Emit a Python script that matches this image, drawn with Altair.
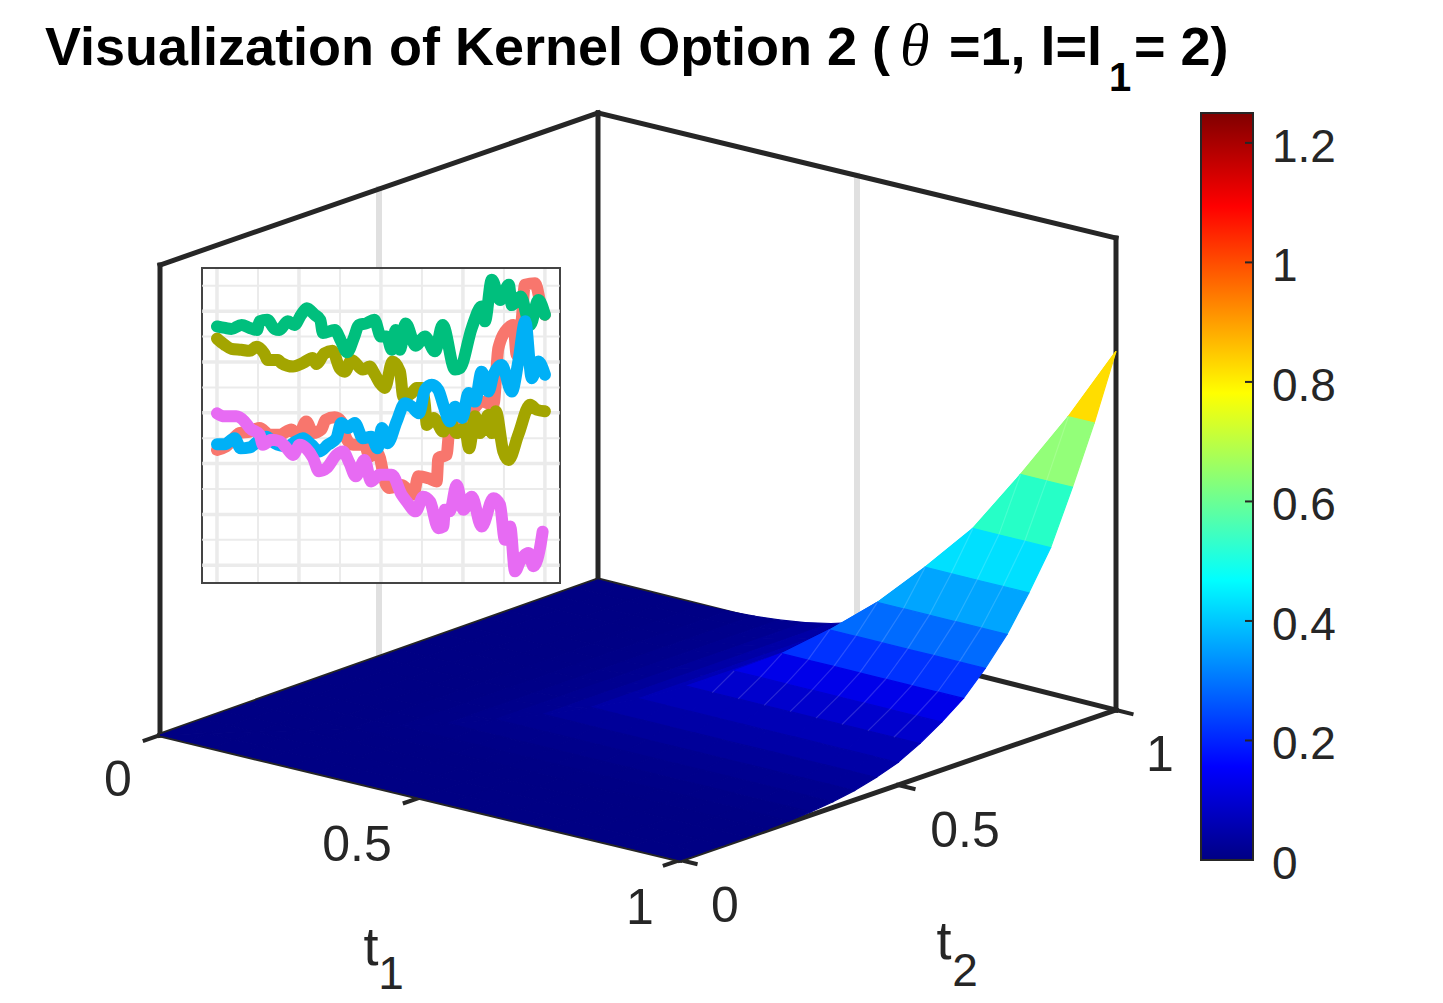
import altair as alt
import pandas as pd

# ── Surface: kernel height per grid node of min(t1, t2), step 0.05 ───────────
node_t = [i / 20 for i in range(21)]
node_z = [0, 0, 0.0001, 0.0005, 0.002, 0.004, 0.008, 0.015, 0.025, 0.04, 0.06,
          0.09, 0.127, 0.17, 0.23, 0.30, 0.39, 0.49, 0.63, 0.78, 0.95]
# flat colour of each band of facets
band_level = [0, 0, 0, 0, 0.001, 0.004, 0.009, 0.016, 0.028, 0.045,
              0.065, 0.095, 0.13, 0.175, 0.23, 0.31, 0.41, 0.57, 0.67, 0.84]

# ── Colour bar ───────────────────────────────────────────────────────────────
jet_domain = [0, 0.15625, 0.46875, 0.78125, 1.09375, 1.25]
jet_colors = ["#000084", "#0000ff", "#00ffff", "#ffff00", "#ff0000", "#800000"]
bar_ticks = [0, 0.2, 0.4, 0.6, 0.8, 1, 1.2]
bar_labels = ["0", "0.2", "0.4", "0.6", "0.8", "1", "1.2"]

# ── Axis ticks ───────────────────────────────────────────────────────────────
t1_ticks = [0, 0.5, 1]
t1_labels = ["0", "0.5", "1"]
t2_ticks = [0, 0.5, 1]
t2_labels = ["0", "0.5", "1"]

# ── Inset: five paths (time, value) ──────────────────────────────────────────
salmon_t = [0, 2.8, 6.9, 10, 13, 16, 19.1, 22.7, 24.7, 27.2, 29.3, 31.8, 33.1, 35.9, 37.9, 39.4,
            41.5, 45, 46.5, 49, 51.6, 52.6, 56.3, 59.9, 61.4, 64.5, 67, 67.5, 70, 71, 73.6,
            77.7, 80.7, 84.3, 85.8, 88.8, 90.4, 91.4, 92.9, 93.9, 97, 99, 100]
salmon_v = [-.73, -.66, -.40, -.37, -.30, -.43, -.43, -.33, -.47, -.17, -.40, -.33, -.14, -.09, -.17, -.50,
            -.63, -.63, -.86, -.79, -1.42, -1.48, -1.42, -1.61, -1.25, -1.29, -1.35, -.89, -.83, -.27, -.24,
            .03, .22, .16, 1.27, 1.67, 1.73, 1.14, 1.80, 2.52, 2.55, 2.06, 1.93]
olive_t = [0, 2.3, 4.4, 7.4, 10, 12, 14.4, 15.5, 18.6, 19.6, 23.2, 26.2, 29.2, 30.3, 32.8, 35.2, 37.4, 39,
           41, 44.5, 46.5, 48.2, 49.7, 51.2, 53.5, 55.8, 56.8, 59.4, 60.9, 62.4, 63.4, 64, 66, 69, 70.6,
           73.1, 75.6, 76.9, 78.7, 80.2, 82.8, 83.8, 85, 87.3, 88.9, 91.9, 95.5, 97.5, 100]
olive_v = [1.46, 1.34, 1.26, 1.24, 1.22, 1.30, 1.17, 1.04, 1.04, .98, .91, .98, 1.08, .96, 1.17, 1.22, .88, .81,
           1.04, .85, .91, .75, .58, .49, 1.01, .81, .32, .39, .49, .49, .16, -.24, -.10, -.37, -.10,
           -.40, -.30, -.70, -.07, -.40, -.04, -.40, .03, -.76, -.93, -.43, .16, .06, .03]
green_t = [0, 2.5, 4.4, 7.5, 10, 12.2, 13, 15.3, 17.6, 19, 21.6, 23.6, 25.7, 27.4, 29.8, 31.5, 32.3, 35.9,
           37.9, 39.7, 41.7, 43.3, 45.5, 48, 50, 51.8, 53.3, 54.5, 55.8, 57.5, 60.6, 63.4, 66.5, 68.8,
           72.6, 74.1, 77.7, 80.7, 81.7, 83.8, 86.3, 89, 89.9, 92.6, 95.5, 98, 100]
green_v = [1.70, 1.67, 1.65, 1.73, 1.67, 1.63, 1.80, 1.83, 1.65, 1.63, 1.80, 1.73, 1.93, 2.06, 1.93, 1.83, 1.57, 1.63,
           1.40, 1.19, 1.47, 1.73, 1.76, 1.83, 1.50, 1.50, 1.24, 1.63, 1.24, 1.76, 1.32, 1.50, 1.21, 1.73,
           .85, .88, 1.67, 2.09, 1.80, 2.62, 2.22, 2.52, 2.12, 2.29, 1.73, 2.22, 1.93]
blue_t = [0, 2.3, 5.4, 7.2, 10, 12.5, 15, 17.6, 21.1, 24.2, 26.2, 28.8, 31.3, 33.8, 36.4, 37.9, 39.9, 42, 44.5,
          47, 49, 50.3, 52, 54.8, 57.3, 59.4, 61.6, 63.4, 65.5, 67.5, 69, 71, 72.6, 74.8, 76.7, 78.7,
          80.7, 82.8, 84.3, 86.8, 89.9, 91.9, 94, 96, 98, 100]
blue_v = [-.62, -.62, -.50, -.70, -.68, -.56, -.47, -.60, -.66, -.56, -.50, -.63, -.76, -.63, -.50, -.20, -.30, -.20, -.50,
          -.47, -.70, -.30, -.60, -.17, .19, .12, -.01, .45, .55, .45, .16, -.17, .12, -.10, .39, .22,
          .81, .42, .75, .94, .42, 1.01, 1.80, .68, 1.01, .75]
pink_t = [0, 2.3, 5.9, 8.4, 10, 13, 14, 16.6, 19.1, 21.3, 23.2, 25.2, 27.2, 29.3, 31.1, 33.4, 36.4, 38.4, 40.4,
          42.3, 45, 47, 49.6, 53.3, 56.3, 57.9, 60.6, 62.9, 65, 67.5, 69, 69.5, 71, 73.1, 75.1, 77.7,
          80.7, 84.3, 86.3, 87.8, 89.4, 90.9, 92.4, 95, 96.5, 98.5, 99.3]
pink_v = [-.01, -.07, -.07, -.17, -.30, -.43, -.63, -.53, -.56, -.70, -.83, -.63, -.70, -.89, -1.15, -1.09, -.83, -.76, -.99,
          -1.25, -.93, -1.35, -1.22, -1.22, -1.61, -1.75, -1.94, -1.65, -1.75, -2.27, -2.24, -1.91, -1.94, -1.42, -1.91, -1.65,
          -2.24, -1.68, -1.81, -2.50, -2.24, -3.12, -2.93, -2.76, -3.02, -2.66, -2.34]

inset_major_x = [0, 25, 50, 75, 100]
inset_minor_x = [12.5, 37.5, 62.5, 87.5]
inset_major_y = [-3, -2, -1, 0, 1, 2]
inset_minor_y = [-2.5, -1.5, -0.5, 0.5, 1.5, 2.5]

# ── Pixel canvas, the 3D view is projected on it ─────────────────────────────
W, H = 1427, 994
px_x = alt.Scale(domain=[8, 8 + W], range=[0, W])
px_y = alt.Scale(domain=[8, 8 + H], range=[0, H])
INK = "#262626"
FONT = "Liberation Sans"
Z = 1.25


def bilinear(t1, t2, a, b, c, d):
    return a * (1 - t1) * (1 - t2) + b * t1 * (1 - t2) + c * (1 - t1) * t2 + d * t1 * t2


def project(t1, t2, z=0.0):
    # box corners, bilinear between them
    x = bilinear(t1, t2, 160, 680, 598, 1116)
    floor = bilinear(t1, t2, 735, 860, 580, 710)
    top = bilinear(t1, t2, 265, 390, 113, 238)
    return x, floor + (top - floor) * z / Z


def segments(rows, width, color, opacity=1.0, cap="square"):
    recs = []
    for a, b in rows:
        x, y = project(*a)
        x2, y2 = project(*b)
        recs.append({"x": x, "y": y, "x2": x2, "y2": y2})
    return (
        alt.Chart(pd.DataFrame(recs))
        .mark_rule(strokeWidth=width, color=color, strokeCap=cap, opacity=opacity)
        .encode(
            x=alt.X("x:Q", scale=px_x, axis=None),
            y=alt.Y("y:Q", scale=px_y, axis=None),
            x2="x2:Q",
            y2="y2:Q",
        )
    )


def label(text, x, y, size, weight="normal", style="normal", font=FONT, color=INK, align="center"):
    return (
        alt.Chart(pd.DataFrame({"text": [text], "x": [x], "y": [y]}))
        .mark_text(font=font, fontSize=size, fontWeight=weight, fontStyle=style, color=color,
                   align=align, baseline="alphabetic")
        .encode(
            x=alt.X("x:Q", scale=px_x, axis=None),
            y=alt.Y("y:Q", scale=px_y, axis=None),
            text="text:N",
        )
    )


# ── Walls and floor frame ────────────────────────────────────────────────────
wall_grid = segments([((0, 0.5, 0), (0, 0.5, Z)), ((0.5, 1, 0), (0.5, 1, Z))], 6, "#e0e0e0")
frame = segments(
    [
        ((0, 0, 0), (0, 0, Z)),
        ((0, 1, 0), (0, 1, Z)),
        ((1, 1, 0), (1, 1, Z)),
        ((0, 0, Z), (0, 1, Z)),
        ((0, 1, Z), (1, 1, Z)),
        ((0, 1, 0), (1, 1, 0)),
        ((0, 0, 0), (0, 1, 0)),
        ((0, 0, 0), (1, 0, 0)),
        ((1, 0, 0), (1, 1, 0)),
    ],
    5,
    INK,
)
tick_rows = [((t, 0, 0), (t, -0.035, 0)) for t in t1_ticks] + [((1, t, 0), (1.03, t, 0)) for t in t2_ticks]
ticks = segments(tick_rows, 4, INK)


# ── Surface facets, painted far to near ──────────────────────────────────────
def facet(nodes, band):
    ring = [list(project(node_t[a], node_t[b], node_z[min(a, b)])) for a, b in nodes + nodes[:1]]
    return {
        "type": "Feature",
        "geometry": {"type": "Polygon", "coordinates": [ring]},
        "properties": {"level": band_level[band]},
    }


features = []
for j in range(19, -1, -1):
    for i in range(20):
        if i == j:
            # the ridge t1 = t2 runs through this cell
            features.append(facet([(i, i), (i, i + 1), (i + 1, i + 1)], i))
            features.append(facet([(i, i), (i + 1, i), (i + 1, i + 1)], i))
        else:
            features.append(facet([(i, j), (i + 1, j), (i + 1, j + 1), (i, j + 1)], min(i, j)))

jet = alt.Scale(domain=jet_domain, range=jet_colors)
surface = (
    alt.Chart(alt.Data(values=features))
    .mark_geoshape(strokeWidth=1.2)
    .encode(
        color=alt.Color("properties.level:Q", scale=jet, legend=None),
        stroke=alt.Stroke("properties.level:Q", scale=jet, legend=None),
    )
    .project(type="identity", scale=1, translate=[-8, -8])
)

# faint seams between the columns of facets in front of the ridge
seam_rows = [
    ((node_t[i], node_t[j], node_z[j]), (node_t[i], node_t[j + 1], node_z[j + 1]))
    for i in range(12, 20)
    for j in range(11, i)
]
seams = segments(seam_rows, 1.2, "white", opacity=0.16, cap="butt")

# ── Colour bar ───────────────────────────────────────────────────────────────
bar_scale = alt.Scale(domain=[0, Z], range=[860 - 8, 113 - 8])
bar_stops = [alt.GradientStop(offset=v / Z, color=c) for v, c in zip(jet_domain, jet_colors)]
bar_rect = (
    alt.Chart(pd.DataFrame({"y": [0], "y2": [Z], "x": [1201], "x2": [1253]}))
    .mark_rect(
        fill=alt.LinearGradient(gradient="linear", stops=bar_stops, x1=0, x2=0, y1=1, y2=0),
        stroke=INK,
        strokeWidth=2,
    )
    .encode(
        x=alt.X("x:Q", scale=px_x, axis=None),
        x2="x2:Q",
        y=alt.Y("y:Q", scale=bar_scale, axis=None),
        y2="y2:Q",
    )
)
bar_tick_marks = (
    alt.Chart(pd.DataFrame({"y": bar_ticks, "x": [1245] * len(bar_ticks), "x2": [1252] * len(bar_ticks)}))
    .mark_rule(strokeWidth=2, color=INK)
    .encode(x=alt.X("x:Q", scale=px_x, axis=None), x2="x2:Q", y=alt.Y("y:Q", scale=bar_scale, axis=None))
)
bar_text = (
    alt.Chart(pd.DataFrame({"y": bar_ticks, "text": bar_labels, "x": [1272] * len(bar_ticks)}))
    .mark_text(font=FONT, fontSize=46, color=INK, align="left", baseline="middle", dy=5)
    .encode(x=alt.X("x:Q", scale=px_x, axis=None), y=alt.Y("y:Q", scale=bar_scale, axis=None), text="text:N")
)
colorbar = alt.layer(bar_rect, bar_tick_marks, bar_text)

# ── Text ─────────────────────────────────────────────────────────────────────
BLACK = "#000000"
title_parts = [
    label("Visualization of Kernel Option 2 (", 45, 65, 54, weight="bold", color=BLACK, align="left"),
    label("θ", 900, 65, 60, style="italic", font="Liberation Serif", color=BLACK, align="left"),
    label("=1, l=l", 949, 65, 54, weight="bold", color=BLACK, align="left"),
    label("1", 1120, 91, 40, weight="bold", color=BLACK),
    label("= 2)", 1134, 65, 54, weight="bold", color=BLACK, align="left"),
]
t1_pos = [(118, 796), (357, 861), (640, 924)]
t2_pos = [(725, 922), (965, 847), (1160, 771)]
tick_text = [label(s, *p, 50) for s, p in zip(t1_labels, t1_pos)]
tick_text += [label(s, *p, 50) for s, p in zip(t2_labels, t2_pos)]
axis_text = [
    label("t", 371, 965, 54),
    label("1", 391, 989, 46),
    label("t", 944, 959, 54),
    label("2", 965, 986, 46),
]

main = alt.layer(wall_grid, frame, ticks, surface, seams, *title_parts, *tick_text, *axis_text)

# ── Inset, with scales of its own ────────────────────────────────────────────
inset_x = alt.Scale(domain=[-4.57, 104.6], range=[202 - 8, 560 - 8])
inset_y = alt.Scale(domain=[-3.35, 2.85], range=[583 - 8, 268 - 8])

panel = (
    alt.Chart(pd.DataFrame({"a": [-4.57], "b": [104.6], "c": [-3.35], "d": [2.85]}))
    .mark_rect(fill="white", stroke="#444444", strokeWidth=2)
    .encode(
        x=alt.X("a:Q", scale=inset_x, axis=None),
        x2="b:Q",
        y=alt.Y("c:Q", scale=inset_y, axis=None),
        y2="d:Q",
    )
)


def v_grid(values, width):
    return (
        alt.Chart(pd.DataFrame({"v": values, "c": [-3.33] * len(values), "d": [2.83] * len(values)}))
        .mark_rule(color="#ebebeb", strokeWidth=width)
        .encode(x=alt.X("v:Q", scale=inset_x, axis=None), y=alt.Y("c:Q", scale=inset_y, axis=None), y2="d:Q")
    )


def h_grid(values, width):
    return (
        alt.Chart(pd.DataFrame({"v": values, "a": [-4.5] * len(values), "b": [104.5] * len(values)}))
        .mark_rule(color="#ebebeb", strokeWidth=width)
        .encode(y=alt.Y("v:Q", scale=inset_y, axis=None), x=alt.X("a:Q", scale=inset_x, axis=None), x2="b:Q")
    )


paths = [
    (salmon_t, salmon_v, "#F8766D"),
    (olive_t, olive_v, "#A3A500"),
    (green_t, green_v, "#00BF7D"),
    (blue_t, blue_v, "#00B0F6"),
    (pink_t, pink_v, "#E76BF3"),
]
path_layers = [
    alt.Chart(pd.DataFrame({"t": ts, "v": vs}))
    .mark_line(color=c, strokeWidth=12, strokeJoin="round", strokeCap="round", interpolate="monotone")
    .encode(x=alt.X("t:Q", scale=inset_x, axis=None), y=alt.Y("v:Q", scale=inset_y, axis=None))
    for ts, vs, c in paths
]
inset = alt.layer(
    panel, v_grid(inset_minor_x, 2), h_grid(inset_minor_y, 2), v_grid(inset_major_x, 3.5), h_grid(inset_major_y, 3.5),
    *path_layers,
)

# ── Compose ──────────────────────────────────────────────────────────────────
chart = (
    alt.layer(main, inset, colorbar)
    .resolve_scale(x="independent", y="independent")
    .properties(width=W, height=H, padding=0, autosize="none", background="white")
    .configure_view(stroke=None)
)

chart.save("out.html", embed_options={"renderer": "svg", "actions": False})
